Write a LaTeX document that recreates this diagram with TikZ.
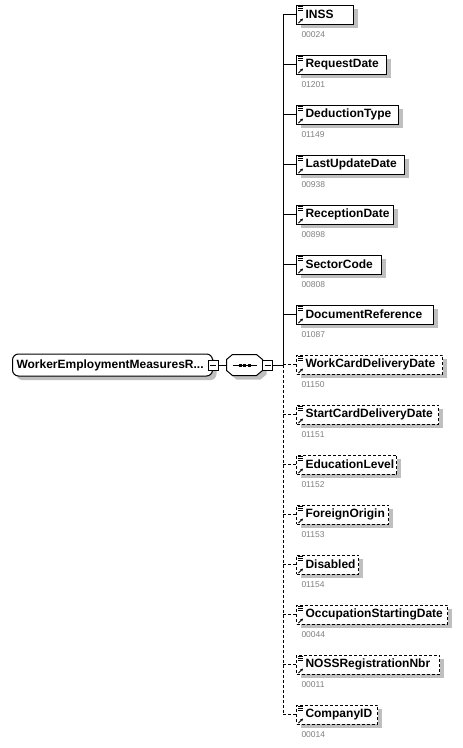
\documentclass[tikz,border=0pt]{standalone}
\usepackage{fontspec}
\setmainfont{Liberation Sans}
\usetikzlibrary{positioning, arrows.meta, calc, shadows}
\tikzset{
  boxshadow/.style={general shadow={fill=black!25, shadow xshift=4pt, shadow yshift=-4pt}},
  elem/.style={draw, fill=white, anchor=west, minimum height=19pt, inner xsep=0pt, inner ysep=0pt,
    text width=#1pt, align=left, font=\fontsize{12}{14}\selectfont\bfseries, boxshadow},
  root/.style={draw, fill=white, anchor=west, rounded corners=6pt, minimum height=22pt, inner xsep=4pt,
    text width=192pt, align=left, font=\fontsize{12}{14}\selectfont\bfseries, boxshadow},
  seqbox/.style={minimum width=35pt, minimum height=20pt, inner sep=0pt},
  minusbox/.style={draw, fill=white, minimum size=10pt, inner sep=0pt,
    path picture={\draw ([xshift=2pt]path picture bounding box.west) -- ([xshift=-2pt]path picture bounding box.east);}},
  codetext/.style={anchor=west, inner sep=0pt, text=black!50, font=\fontsize{8.5}{10}\selectfont},
  req/.style={},
  opt/.style={dash pattern=on 3pt off 2pt},
}

\begin{document}
\begin{tikzpicture}[x=1pt, y=-1pt, line width=1pt]
  \fill[white] (0,0) rectangle (463,748);
  \useasboundingbox (0,0) rectangle (463,748);

  \node[root] (root) at (12,365) {WorkerEmploymentMeasuresR...};
  \node[seqbox] (seq) at (244.5,365) {};
  \draw[fill=white, boxshadow] ([xshift=6pt]seq.north west) -- ([xshift=-6pt]seq.north east)
    -- ([yshift=-5pt]seq.north east) -- ([yshift=5pt]seq.south east) -- ([xshift=-6pt]seq.south east)
    -- ([xshift=6pt]seq.south west) -- ([yshift=5pt]seq.south west) -- ([yshift=-5pt]seq.north west) -- cycle;
  \node[minusbox] (rootmin) at (root.east) {};
  \node[minusbox] (seqmin) at ([xshift=5pt]seq.east) {};
  \coordinate (spine) at (283,365);
  \draw (rootmin) -- (seq);
  \draw (seqmin) -- (spine);
  \draw ([xshift=-12pt]seq.center) -- ([xshift=12pt]seq.center);
  \foreach \dx in {-4.5,0,4.5}
    \fill ([xshift=\dx pt]seq.center) +(-1.5,-1.5) rectangle +(1.5,1.5);

  \foreach \nm/\lbl/\code/\bw/\dsh [count=\i from 0] in {
      inss/INSS/00024/57/req,
      reqdate/RequestDate/01201/90/req,
      dedtype/DeductionType/01149/102/req,
      lastupd/LastUpdateDate/00938/108/req,
      recdate/ReceptionDate/00898/97/req,
      sector/SectorCode/00808/85/req,
      docref/DocumentReference/01087/137/req,
      workcard/WorkCardDeliveryDate/01150/146/opt,
      startcard/StartCardDeliveryDate/01151/142/opt,
      edulevel/EducationLevel/01152/100/opt,
      foreign/ForeignOrigin/01153/92/opt,
      disabled/Disabled/01154/62/opt,
      occdate/OccupationStartingDate/00044/151/opt,
      noss/NOSSRegistrationNbr/00011/143/opt,
      company/CompanyID/00014/81/opt}
  {
    \node[elem=\bw, \dsh] (\nm) at (296,{14.5+50*\i}) {\hspace*{9pt}\mbox{\lbl}};
    \node[codetext] (\nm-code) at (301,{34.5+50*\i}) {\code};
    \draw[\dsh] (spine |- \nm.west) -- (\nm.west);
    \foreach \dy in {1.5,3.5,5.5}
      \draw[line width=0.8pt] ([shift={(2,\dy)}]\nm.north west) -- ++(5,0);
    \draw[line width=0.8pt, -{Stealth[length=3pt, width=3pt]}] ([shift={(2.5,-1.5)}]\nm.south west) -- ++(4.5,-4.5);
  }

  \draw (spine) -- (spine |- inss.west);
  \draw[opt] (spine) -- (spine |- company.west);
\end{tikzpicture}
\end{document}
